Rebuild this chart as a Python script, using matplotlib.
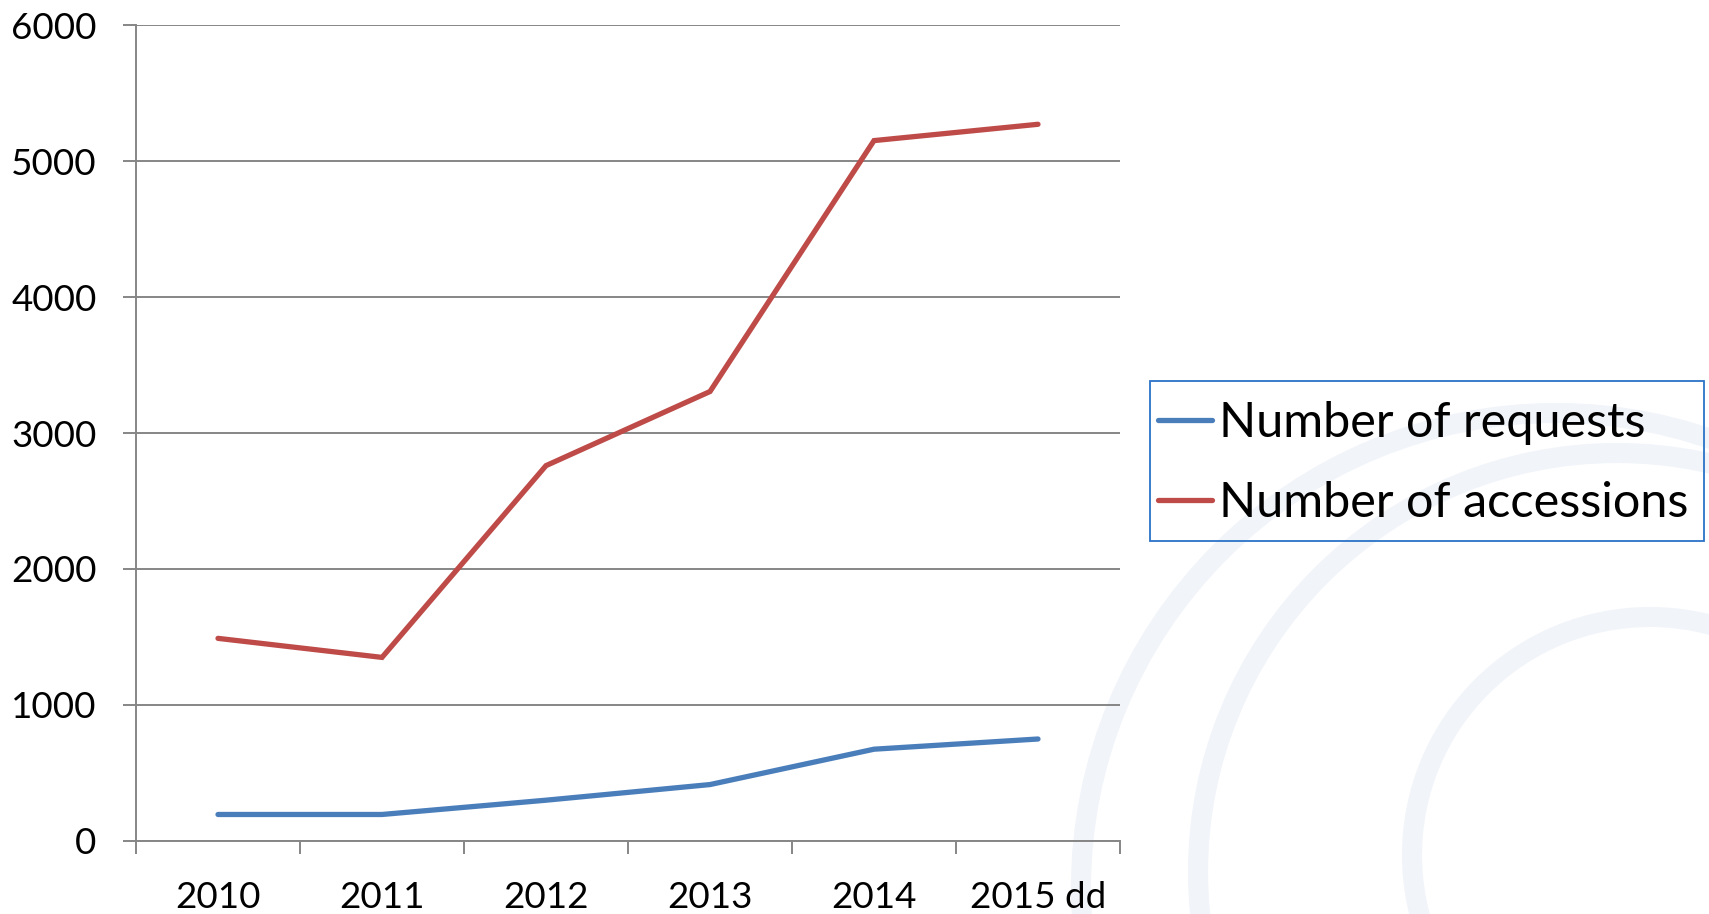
import numpy as np
import matplotlib
matplotlib.use("Agg")
import matplotlib.pyplot as plt
from matplotlib.patches import Circle, Rectangle

plt.rcParams['font.family'] = ['Lato', 'DejaVu Sans']

years = ["2010", "2011", "2012", "2013", "2014", "2015 dd"]
requests = [195, 195, 300, 415, 675, 750]
accessions = [1490, 1350, 2760, 3305, 5150, 5270]

W, H = 1709, 914
fig = plt.figure(figsize=(W / 100, H / 100), dpi=100)

# faint decorative rings in the background (pixel coords)
bg = fig.add_axes([0, 0, 1, 1], zorder=0)
bg.set_xlim(0, W)
bg.set_ylim(H, 0)
bg.axis("off")
for (cx, cy, r) in [(1556, 888, 475), (1617, 872, 419), (1650, 855, 238)]:
    bg.add_patch(Circle((cx, cy), r, fill=False, lw=14.5, edgecolor="#f1f4f9"))
# legend border
bg.add_patch(Rectangle((1150, 381), 554, 160, fill=False, lw=1.3, edgecolor="#2a73c7"))

ax = fig.add_axes([136 / W, 1 - 841 / H, (1120 - 136) / W, (841 - 25) / H], zorder=1)
ax.patch.set_alpha(0)

x = np.arange(len(years))
ax.plot(x, requests, color="#4a7ebb", lw=3.8, solid_capstyle="round", solid_joinstyle="miter",
        label="Number of requests")
ax.plot(x, accessions, color="#be4b48", lw=3.8, solid_capstyle="round", solid_joinstyle="miter",
        label="Number of accessions")

ax.set_xlim(-0.5, len(years) - 0.5)
ax.set_ylim(0, 6000)
ax.set_yticks(np.arange(0, 6001, 1000))
ax.yaxis.grid(True, color="#868686", lw=1.4)
ax.set_axisbelow(True)

grey = "#868686"
for s in ["top", "right"]:
    ax.spines[s].set_visible(False)
for s in ["left", "bottom"]:
    ax.spines[s].set_color(grey)
    ax.spines[s].set_linewidth(1.4)

# category boundaries get tick marks, labels sit in the middle
ax.set_xticks(np.arange(-0.5, len(years), 1.0))
ax.set_xticklabels([])
ax.set_xticks(x, minor=True)
ax.set_xticklabels(years, minor=True)
ax.tick_params(axis="x", which="major", length=9.4, width=1.4, color=grey)
ax.tick_params(axis="x", which="minor", length=0, pad=29, labelsize=26.5)
ax.tick_params(axis="y", length=9.4, width=1.4, color=grey, pad=19, labelsize=26.5)

leg = fig.legend(loc="center left", bbox_to_anchor=(1140 / W, 1 - 463 / H), fontsize=35,
                 frameon=False, handlelength=1.1, handletextpad=0.15,
                 labelspacing=0.74, borderpad=0.38, borderaxespad=0)

fig.savefig("out.png", dpi=100)
